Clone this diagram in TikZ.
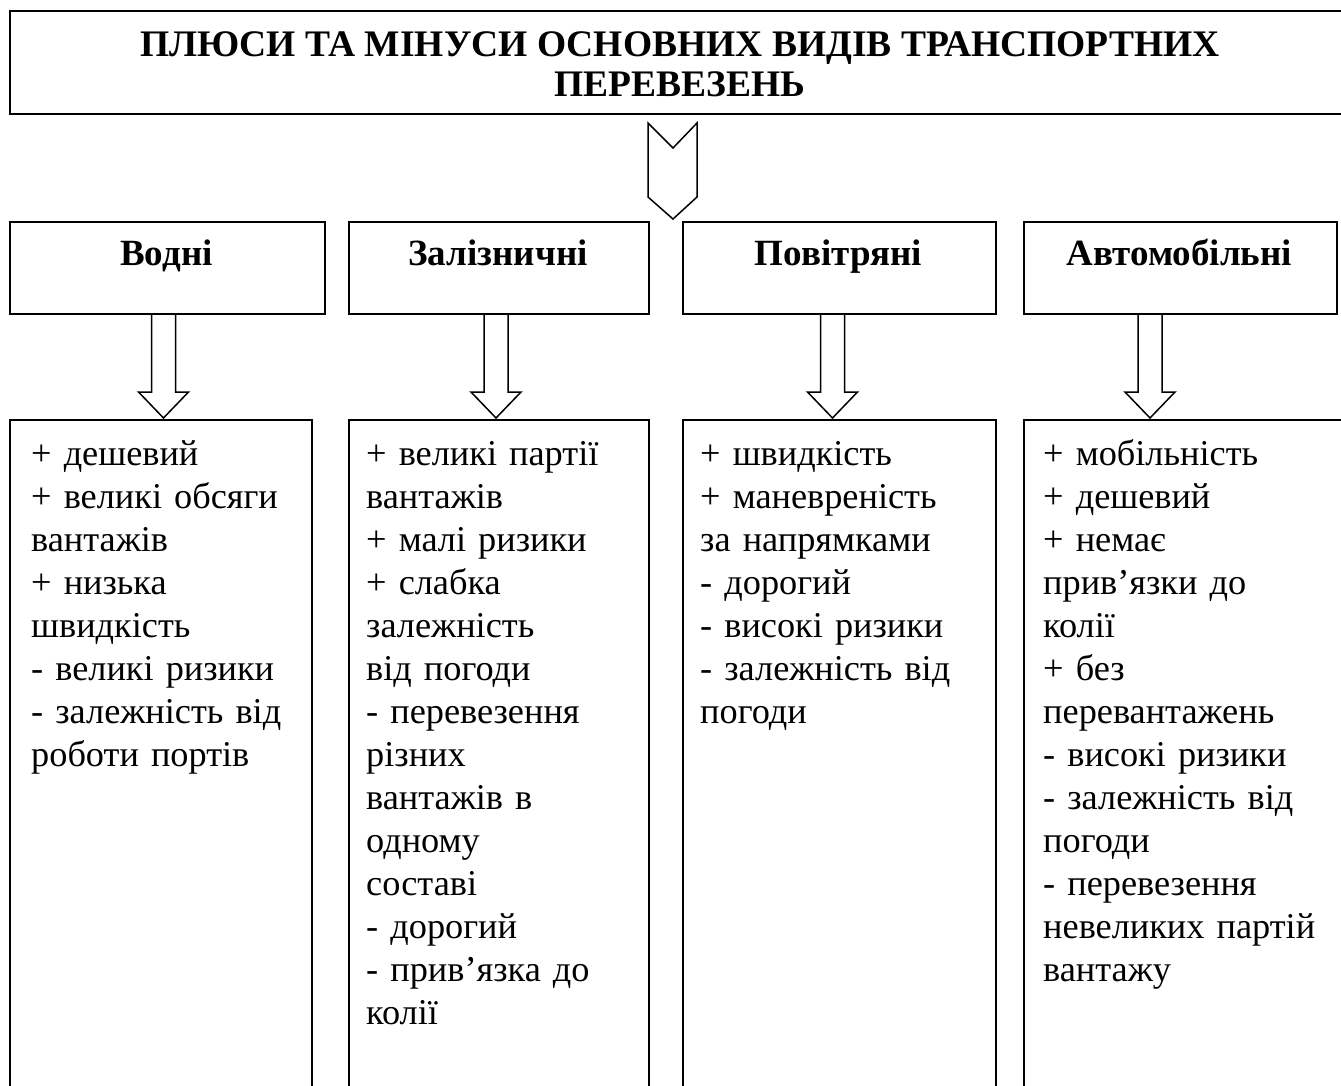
\documentclass[tikz,border=0pt]{standalone}
\usepackage{fontspec}
\setmainfont{Liberation Serif}
\begin{document}
\begin{tikzpicture}[x=1pt,y=-1pt,
  box/.style={draw,line width=1.6pt,inner sep=0pt,anchor=north west},
  blockarrow/.style={draw,line width=1.5pt,line join=miter},
  ttl/.style={font=\fontsize{37.5}{40}\selectfont\bfseries,align=center,inner sep=0pt,anchor=north},
  cat/.style={font=\fontsize{37}{43}\selectfont\bfseries,inner sep=0pt,anchor=base},
  body/.style={font=\fontsize{36.3}{43}\selectfont,text width=320pt,align=left,inner sep=0pt,anchor=north west}]
\useasboundingbox (0,0) rectangle (1341,1086);
\clip (0,0) rectangle (1341,1086);

% title
\node[box,minimum width=1342pt,minimum height=103pt] (title) at (9,10) {};
\node[ttl] (titletext) at (680,28) {\strut ПЛЮСИ ТА МІНУСИ ОСНОВНИХ ВИДІВ ТРАНСПОРТНИХ\\ПЕРЕВЕЗЕНЬ};

% chevron arrow
\coordinate (ch1) at (648,123);
\coordinate (chn) at (673,148);
\coordinate (ch2) at (697,123);
\coordinate (ch3) at (697,197);
\coordinate (cht) at (673,219);
\coordinate (ch4) at (648,197);
\draw[blockarrow] (ch1) -- (chn) -- (ch2) -- (ch3) -- (cht) -- (ch4) -- cycle;

% category boxes
\node[box,minimum width=315pt,minimum height=92pt] (c1) at (9,221) {};
\node[box,minimum width=300pt,minimum height=92pt] (c2) at (348,221) {};
\node[box,minimum width=313pt,minimum height=92pt] (c3) at (682,221) {};
\node[box,minimum width=313pt,minimum height=92pt] (c4) at (1023,221) {};
\node[cat] (l1) at (166.5,265) {Водні};
\node[cat] (l2) at (498,265) {Залізничні};
\node[cat] (l3) at (838.5,265) {Повітряні};
\node[cat] (l4) at (1179.5,265) {Автомобільні};

% detail boxes
\node[box,minimum width=302pt,minimum height=700pt] (d1) at (9,419) {};
\node[box,minimum width=300pt,minimum height=700pt] (d2) at (348,419) {};
\node[box,minimum width=313pt,minimum height=700pt] (d3) at (682,419) {};
\node[box,minimum width=340pt,minimum height=700pt] (d4) at (1023,419) {};

% block arrows from category to detail boxes
\foreach \i/\cx in {1/163.5,2/496,3/832.5,4/1150}{
  \draw[blockarrow] (\cx-12,313) -- (\cx-12,392) -- (\cx-25,392) -- (\cx,418)
     -- (\cx+25,392) -- (\cx+12,392) -- (\cx+12,313);
}

% texts
\node[body] (t1) at (31,434.9) {\strut + дешевий\\+ великі обсяги\\вантажів\\+ низька\\швидкість\\- великі ризики\\- залежність від\\роботи портів};
\node[body] (t2) at (366,434.9) {\strut + великі партії\\вантажів\\+ малі ризики\\+ слабка\\залежність\\від погоди\\- перевезення\\різних\\вантажів в\\одному\\составі\\- дорогий\\- прив’язка до\\колії};
\node[body] (t3) at (700,434.9) {\strut + швидкість\\+ маневреність\\за напрямками\\- дорогий\\- високі ризики\\- залежність від\\погоди};
\node[body] (t4) at (1043,434.9) {\strut + мобільність\\+ дешевий\\+ немає\\прив’язки до\\колії\\+ без\\перевантажень\\- високі ризики\\- залежність від\\погоди\\- перевезення\\невеликих партій\\вантажу};
\end{tikzpicture}
\end{document}
